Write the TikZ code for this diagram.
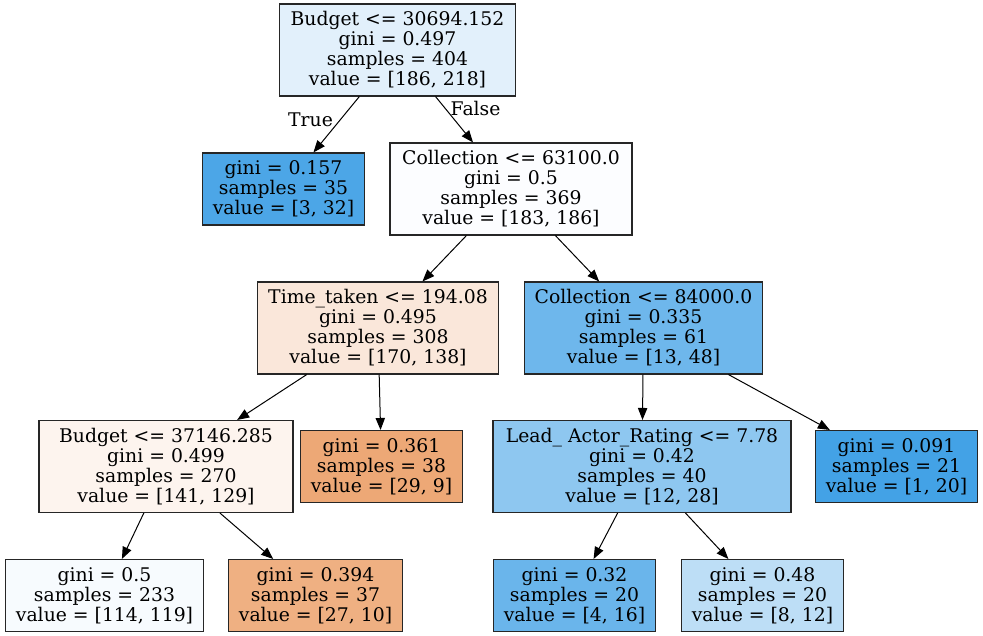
\documentclass[tikz,border=0pt]{standalone}
\usepackage{fontspec}
\setmainfont{DejaVu Serif}
\usepackage{tikz}
\usetikzlibrary{arrows.meta, positioning}

\definecolor{rootcol}{HTML}{E2F0FB}
\definecolor{leafA}{HTML}{4CA6E7}
\definecolor{collA}{HTML}{FCFDFF}
\definecolor{timecol}{HTML}{FAE7DA}
\definecolor{collB}{HTML}{6EB7EC}
\definecolor{budgetB}{HTML}{FDF4EE}
\definecolor{leafB}{HTML}{EDA876}
\definecolor{leadcol}{HTML}{8EC7F0}
\definecolor{leafC}{HTML}{43A2E6}
\definecolor{leafD}{HTML}{F7FBFE}
\definecolor{leafE}{HTML}{EFB082}
\definecolor{leafF}{HTML}{6AB5EB}
\definecolor{leafG}{HTML}{BDDEF6}

\begin{document}
\begin{tikzpicture}[
    x=0.75pt, y=-0.75pt,
    font=\fontsize{14.1}{15}\selectfont,
    split/.style={rectangle, draw=black!85, line width=0.8pt, align=center, inner xsep=8pt, minimum height=69pt},
    leaf/.style={rectangle, draw=black!85, line width=0.8pt, align=center, inner xsep=8pt, minimum height=54pt},
    arrow/.style={line width=0.75pt, -{Triangle[length=9pt,width=7pt]}},
    edgelbl/.style={inner sep=1pt}
]
\useasboundingbox (0,0) rectangle (983,636);

% Root
\node[split, fill=rootcol] (root) at (397.5,50) {Budget <= 30694.152\\gini = 0.497\\samples = 404\\value = [186, 218]};

% Depth 1
\node[leaf, fill=leafA] (g157) at (283.5,189) {gini = 0.157\\samples = 35\\value = [3, 32]};
\node[split, fill=collA, minimum width=181.5pt] (coll63) at (511,189) {Collection <= 63100.0\\gini = 0.5\\samples = 369\\value = [183, 186]};

% Depth 2
\node[split, fill=timecol] (time) at (378,328) {Time\_taken <= 194.08\\gini = 0.495\\samples = 308\\value = [170, 138]};
\node[split, fill=collB] (coll84) at (643.5,328) {Collection <= 84000.0\\gini = 0.335\\samples = 61\\value = [13, 48]};

% Depth 3
\node[split, fill=budgetB, minimum width=190.5pt] (budget37) at (166,466.5) {Budget <= 37146.285\\gini = 0.499\\samples = 270\\value = [141, 129]};
\node[leaf, fill=leafB] (g361) at (381.5,466.5) {gini = 0.361\\samples = 38\\value = [29, 9]};
\node[split, fill=leadcol, minimum width=223.5pt] (lead) at (642,466.5) {Lead\_ Actor\_Rating <= 7.78\\gini = 0.42\\samples = 40\\value = [12, 28]};
\node[leaf, fill=leafC] (g091) at (896.5,466.5) {gini = 0.091\\samples = 21\\value = [1, 20]};

% Depth 4
\node[leaf, fill=leafD] (g05) at (104.5,595.5) {gini = 0.5\\samples = 233\\value = [114, 119]};
\node[leaf, fill=leafE] (g394) at (315.5,595.5) {gini = 0.394\\samples = 37\\value = [27, 10]};
\node[leaf, fill=leafF] (g32) at (574.5,595.5) {gini = 0.32\\samples = 20\\value = [4, 16]};
\node[leaf, fill=leafG] (g48) at (762.5,595.5) {gini = 0.48\\samples = 20\\value = [8, 12]};

% Arrows
\draw[arrow] (root) -- node[edgelbl, pos=0.42, left=4pt] (truelbl) {True} (g157);
\draw[arrow] (root) -- node[edgelbl, pos=0.25, right=3pt] (falselbl) {False} (coll63);
\draw[arrow] (coll63) -- (time);
\draw[arrow] (coll63) -- (coll84);
\draw[arrow] (time) -- (budget37);
\draw[arrow] (time) -- (g361);
\draw[arrow] (coll84) -- (lead);
\draw[arrow] (coll84) -- (g091);
\draw[arrow] (budget37) -- (g05);
\draw[arrow] (budget37) -- (g394);
\draw[arrow] (lead) -- (g32);
\draw[arrow] (lead) -- (g48);

\end{tikzpicture}
\end{document}
